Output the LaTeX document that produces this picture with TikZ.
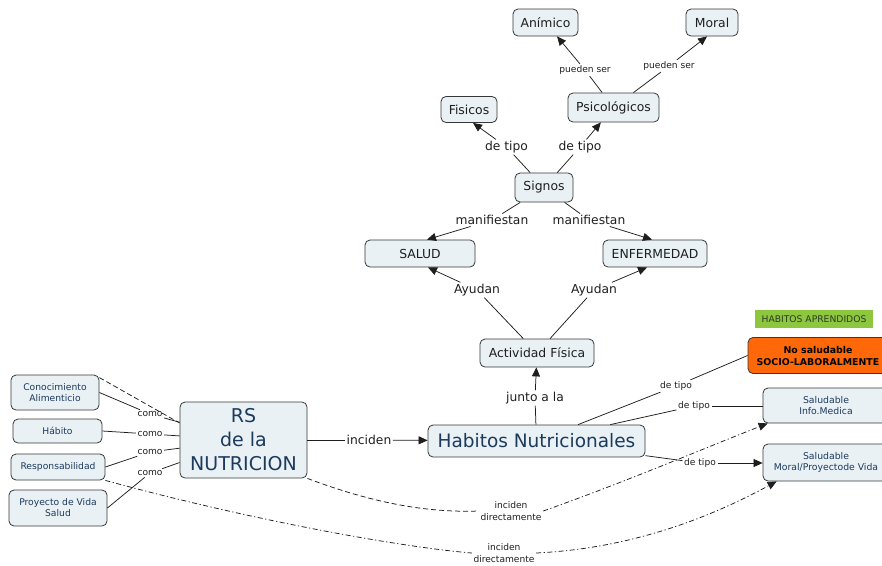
\documentclass[tikz,border=0pt]{standalone}
\usepackage{fontspec}
\setmainfont{DejaVu Sans}
\usetikzlibrary{arrows.meta}
\definecolor{cfill}{RGB}{233,241,245}
\definecolor{cborder}{RGB}{55,55,55}
\definecolor{navy}{RGB}{28,58,92}
\definecolor{ink}{RGB}{30,30,30}
\definecolor{lime}{RGB}{141,198,63}
\definecolor{limetext}{RGB}{45,60,35}
\definecolor{orangebox}{RGB}{255,104,8}
\tikzset{
  concept/.style={draw=cborder, fill=cfill, rounded corners=5pt, line width=0.8pt,
    inner sep=1pt, align=center, text=ink},
  topc/.style={concept, font=\fontsize{12.4}{15}\selectfont},
  leftc/.style={concept, text=navy, font=\fontsize{9.2}{11}\selectfont},
  rightc/.style={concept, text=navy, font=\fontsize{9.3}{11.7}\selectfont},
  lbl/.style={inner sep=1.5pt, text=ink, align=center},
  lblbig/.style={lbl, font=\fontsize{12.3}{14}\selectfont},
  lblsmall/.style={lbl, font=\fontsize{9.1}{11.5}\selectfont},
  link/.style={draw=ink, line width=0.75pt},
  arr/.style={link, -{Triangle[length=9pt,width=8pt]}},
  dashlink/.style={link, dash pattern=on 5pt off 3pt},
  dotdash/.style={link, dash pattern=on 5pt off 2.5pt on 1.2pt off 2.5pt},
}
\begin{document}
\begin{tikzpicture}[x=1pt,y=-1pt]
\useasboundingbox (0,0) rectangle (882,565);
\clip (0,0) rectangle (882,565);

% upper branch: signs
\node[topc, minimum width=65pt, minimum height=27pt] (ani) at (545.5,22.5) {Anímico};
\node[topc, minimum width=52pt, minimum height=27pt] (mor) at (712,22.5) {Moral};
\node[topc, minimum width=91pt, minimum height=29pt] (psi) at (613.5,107.5) {Psicológicos};
\node[topc, minimum width=56pt, minimum height=26pt] (fis) at (469,109.5) {Fisicos};
\node[topc, minimum width=58pt, minimum height=29pt] (sig) at (544,187.5) {Signos};
\node[topc, minimum width=110pt, minimum height=27pt] (sal) at (420,253.5) {SALUD};
\node[topc, minimum width=104pt, minimum height=27pt] (enf) at (655,253.5) {ENFERMEDAD};
\node[topc, minimum width=114pt, minimum height=28pt] (act) at (537,353) {Actividad Física};

% central concepts
\node[concept, text=navy, font=\fontsize{18.5}{22}\selectfont,
      minimum width=217pt, minimum height=32pt] (hab) at (536.5,441) {Habitos Nutricionales};
\node[concept, text=navy, font=\fontsize{19}{24}\selectfont,
      minimum width=127pt, minimum height=76pt] (rs) at (243.5,440) {RS\\de la\\NUTRICION};

% left concepts
\node[leftc, minimum width=88pt, minimum height=35pt] (con) at (55,392.5) {Conocimiento\\Alimenticio};
\node[leftc, minimum width=89pt, minimum height=24pt] (hbt) at (57.5,431) {Hábito};
\node[leftc, minimum width=94pt, minimum height=26pt] (res) at (58,467) {Responsabilidad};
\node[leftc, minimum width=98pt, minimum height=36pt] (pro) at (58,508) {Proyecto de Vida\\Salud};

% right concepts
\node[fill=lime, text=limetext, inner sep=0pt, minimum width=118pt, minimum height=18pt,
      font=\fontsize{9.2}{10}\selectfont] (apr) at (814,319) {HABITOS APRENDIDOS};
\node[concept, fill=orangebox, text=black, font=\fontsize{9.4}{12}\selectfont\bfseries,
      minimum width=140pt, minimum height=36pt] (nos) at (818,355.5) {No saludable\\SOCIO-LABORALMENTE};
\node[rightc, minimum width=126pt, minimum height=35pt] (inf) at (826,405.5) {Saludable\\Info.Medica};
\node[rightc, minimum width=126pt, minimum height=37pt] (mpv) at (826,462.5) {Saludable\\Moral/Proyectode Vida};

% linking phrases
\node[lblsmall] (ps1) at (585,70) {pueden ser};
\node[lblsmall] (ps2) at (669,66) {pueden ser};
\node[lblbig] (dt1) at (506.5,147) {de tipo};
\node[lblbig] (dt2) at (580,147) {de tipo};
\node[lblbig] (mf1) at (492,220) {manifiestan};
\node[lblbig] (mf2) at (589,220) {manifiestan};
\node[lblbig] (ay1) at (477,290) {Ayudan};
\node[lblbig] (ay2) at (594,290) {Ayudan};
\node[lblbig] (jun) at (535,398) {junto a la};
\node[lblbig] (inc) at (369,440) {inciden};
\node[lblsmall] (dt3) at (676,386) {de tipo};
\node[lblsmall] (dt4) at (694,406) {de tipo};
\node[lblsmall] (dt5) at (700,463) {de tipo};
\node[lblsmall] (co1) at (150,414) {como};
\node[lblsmall] (co2) at (150,434) {como};
\node[lblsmall] (co3) at (150,452) {como};
\node[lblsmall] (co4) at (150,473) {como};
\node[lblsmall] (id1) at (511,511) {inciden\\directamente};
\node[lblsmall] (id2) at (504,553) {inciden\\directamente};

% connectors of the upper branch
\draw[link] (psi) -- (ps1);  \draw[arr] (ps1) -- (ani);
\draw[link] (psi) -- (ps2);  \draw[arr] (ps2) -- ([xshift=-5pt]mor.south);
\draw[link] (sig) -- (dt1);  \draw[arr] (dt1) -- ([xshift=4pt]fis.south);
\draw[link] (sig) -- (dt2);  \draw[arr] (dt2) -- (psi);
\draw[link] (sig) -- (mf1);  \draw[arr] (mf1) -- ([xshift=7pt]sal.north);
\draw[link] (sig) -- (mf2);  \draw[arr] (mf2) -- ([xshift=-3pt]enf.north);
\draw[link] (act) -- (ay1);  \draw[arr] (ay1) -- ([xshift=8pt]sal.south);
\draw[link] (act) -- (ay2);  \draw[arr] (ay2) -- ([xshift=-8pt]enf.south);
\draw[link] (hab) -- (jun);  \draw[arr] (jun) -- (act);

% habits and their kinds
\draw[link] (hab) -- (dt3);  \draw[link] (dt3) -- (nos.west);
\draw[link] (hab) -- (dt4);  \draw[link] (dt4) -- (dt4 -| inf.west);
\draw[link] (hab) -- (dt5);  \draw[arr] (dt5) -- (dt5 -| mpv.west);
\draw[link] (rs) -- (inc);   \draw[arr] (inc) -- (hab);

% left side
\draw[link] (con.east) -- (co1);  \draw[link] (co1) -- (rs);
\draw[link] (hbt.east) -- (co2);  \draw[link] (co2) -- (rs);
\draw[link] (res.east) -- (co3);  \draw[link] (co3) -- (rs);
\draw[link] (pro.east) -- (co4);  \draw[link] (co4) -- (rs);
\draw[dashlink] ([yshift=-3pt]con.north east) -- ([yshift=17pt]rs.west);

% cross links
\draw[dashlink] (rs.south east) .. controls (370,502) and (425,513) .. (id1.west);
\draw[dotdash, -{Triangle[length=9pt,width=8pt]}] (id1.east) .. controls (625,482) and (700,450) .. ([xshift=5pt]inf.south west);
\draw[dotdash] (res.south east) .. controls (250,520) and (400,547) .. (id2.west);
\draw[dotdash, -{Triangle[length=9pt,width=8pt]}] (id2.east) .. controls (640,548) and (720,512) .. ([xshift=14pt]mpv.south west);
\end{tikzpicture}
\end{document}
